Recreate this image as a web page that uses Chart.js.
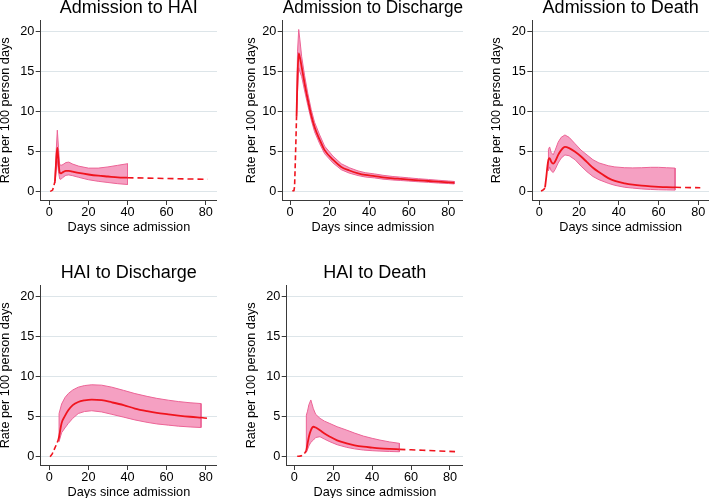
<!DOCTYPE html>
<html><head><meta charset="utf-8">
<script src="https://cdn.jsdelivr.net/npm/chart.js@4.4.0/dist/chart.umd.min.js"></script>
<style>
html,body{margin:0;padding:0;background:#fff;overflow:hidden;width:709px;height:498px;position:relative;}
canvas{position:absolute;}
</style></head><body>
<script>
// ---------- text & ticks ----------
const titles = ['Admission to HAI','Admission to Discharge','Admission to Death','HAI to Discharge','HAI to Death'];
const xTitle = 'Days since admission';
const yTitle = 'Rate per 100 person days';
const xTicks = [0, 20, 40, 60, 80];
const yTicks = [0, 5, 10, 15, 20];

// ---------- Panel 1: Admission to HAI ----------
const p1PreDays  = [0.4, 1.0, 1.7, 2.3, 2.9];
const p1PreRate  = [0.05, 0.1, 0.2, 0.7, 1.3];
const p1Days     = [2.9, 3.5, 4.1, 4.7, 5.3, 6.0, 7.0, 8.5, 10, 12, 15, 20, 25, 30, 35, 40];
const p1Rate     = [1.3, 3.8, 5.5, 3.8, 2.4, 2.3, 2.45, 2.6, 2.6, 2.5, 2.35, 2.15, 2.0, 1.9, 1.8, 1.75];
const p1Hi       = [1.5, 5.0, 7.7, 5.5, 3.4, 3.3, 3.4, 3.65, 3.7, 3.45, 3.2, 2.95, 2.95, 3.1, 3.3, 3.5];
const p1Lo       = [1.1, 2.6, 3.9, 2.5, 1.6, 1.55, 1.8, 2.05, 2.1, 2.0, 1.8, 1.5, 1.3, 1.15, 1.0, 0.9];
const p1PostDays = [40, 50, 60, 70, 81];
const p1PostRate = [1.75, 1.7, 1.65, 1.6, 1.55];

// ---------- Panel 2: Admission to Discharge ----------
const p2PreDays  = [1.2, 2.0, 2.3, 2.6, 3.0, 3.3];
const p2PreRate  = [0.1, 0.15, 0.6, 3.0, 6.5, 9.4];
const p2Days     = [3.3, 3.8, 4.4, 5.0, 5.9, 7.4, 9.0, 10.7, 12.4, 15, 17.5, 21.7, 25.9, 30, 34.4, 38, 42.8, 47, 52, 56, 60, 65, 70, 75, 80, 83];
const p2Rate     = [9.4, 14.5, 17.3, 16.8, 15.6, 13.5, 11.5, 9.6, 8.1, 6.5, 5.2, 4.0, 3.1, 2.65, 2.3, 2.1, 1.96, 1.8, 1.67, 1.6, 1.52, 1.42, 1.34, 1.25, 1.17, 1.12];
const p2Hi       = [9.6, 17.5, 20.3, 19.0, 16.9, 14.5, 12.3, 10.3, 8.7, 7.1, 5.7, 4.45, 3.5, 3.0, 2.6, 2.38, 2.22, 2.05, 1.9, 1.82, 1.73, 1.62, 1.53, 1.43, 1.34, 1.28];
const p2Lo       = [9.2, 12.5, 15.5, 15.0, 14.4, 12.6, 10.8, 9.0, 7.5, 6.0, 4.75, 3.6, 2.75, 2.32, 2.02, 1.84, 1.72, 1.57, 1.46, 1.4, 1.33, 1.24, 1.17, 1.08, 1.02, 0.97];
const p2PostDays = [];
const p2PostRate = [];

// ---------- Panel 3: Admission to Death ----------
const p3PreDays  = [0.85, 1.7, 2.5, 2.9];
const p3PreRate  = [0.1, 0.18, 0.35, 0.55];
const p3Days     = [2.9, 3.5, 4.1, 4.6, 5.2, 6.0, 7.0, 8, 9.5, 11, 12.9, 15, 18, 21, 24, 27, 30, 34.7, 38, 43, 47, 51.5, 56, 60, 64, 68.3];
const p3Rate     = [0.55, 1.8, 3.2, 4.0, 4.2, 3.75, 3.5, 3.8, 4.6, 5.2, 5.6, 5.45, 5.0, 4.4, 3.7, 3.0, 2.45, 1.7, 1.35, 1.05, 0.88, 0.75, 0.66, 0.6, 0.56, 0.55];
const p3Hi       = [null, null, null, 5.3, 5.6, 4.9, 4.6, 5.2, 6.2, 6.8, 7.1, 6.8, 6.0, 5.2, 4.6, 4.0, 3.6, 3.25, 3.1, 3.0, 2.98, 3.0, 3.05, 3.05, 3.0, 2.95];
const p3Lo       = [null, null, null, 2.6, 3.1, 2.6, 2.4, 2.8, 3.6, 4.2, 4.6, 4.5, 4.0, 3.2, 2.5, 1.9, 1.5, 1.05, 0.8, 0.55, 0.45, 0.35, 0.28, 0.24, 0.22, 0.2];
const p3PostDays = [68.3, 72, 76, 81];
const p3PostRate = [0.55, 0.53, 0.51, 0.5];

// ---------- Panel 4: HAI to Discharge ----------
const p4PreDays  = [0.4, 1.5, 2.4, 3.5, 4.6];
const p4PreRate  = [0, 0.35, 0.85, 1.45, 2.1];
const p4Days     = [4.6, 5.0, 6.3, 8, 9.7, 12, 14.8, 18, 21.7, 26.8, 32, 38, 43.8, 50, 55, 60.9, 66, 72, 77.6];
const p4Rate     = [2.1, 2.5, 4.2, 5.1, 5.8, 6.45, 6.85, 7.05, 7.15, 7.07, 6.8, 6.45, 6.03, 5.7, 5.48, 5.3, 5.15, 5.0, 4.9];
const p4Hi       = [null, 5.4, 6.6, 7.4, 7.9, 8.35, 8.7, 8.9, 9.0, 8.95, 8.7, 8.3, 7.9, 7.55, 7.3, 7.07, 6.9, 6.75, 6.65];
const p4Lo       = [null, 1.9, 3.0, 3.6, 4.15, 4.8, 5.4, 5.65, 5.75, 5.6, 5.3, 4.95, 4.6, 4.3, 4.1, 3.95, 3.82, 3.72, 3.65];
const p4PostDays = [77.6, 79.3, 81];
const p4PostRate = [4.9, 4.85, 4.8];

// ---------- Panel 5: HAI to Death ----------
const p5PreDays  = [1.5, 2.5, 3.5, 4.5, 5.5, 6.2];
const p5PreRate  = [0.05, 0.05, 0.1, 0.25, 0.5, 0.8];
const p5Days     = [6.2, 6.8, 7.5, 8.5, 9.8, 11, 13.2, 15.5, 18.3, 22, 26.9, 31, 35.5, 40, 44, 49, 54];
const p5Rate     = [0.8, 1.6, 2.5, 3.3, 3.75, 3.65, 3.3, 2.9, 2.5, 2.05, 1.67, 1.43, 1.25, 1.13, 1.04, 0.97, 0.92];
const p5Hi       = [5.2, 5.7, 6.5, 7.1, 6.0, 5.3, 4.8, 4.45, 4.15, 3.75, 3.33, 2.95, 2.58, 2.3, 2.08, 1.85, 1.67];
const p5Lo       = [0.55, 0.9, 1.35, 1.8, 2.08, 2.4, 2.5, 2.2, 1.87, 1.5, 1.17, 0.98, 0.83, 0.75, 0.7, 0.65, 0.62];
const p5PostDays = [54, 60, 66, 72, 78, 82.6];
const p5PostRate = [0.92, 0.86, 0.8, 0.74, 0.68, 0.63];

// ---------- assemble ----------
const series = [
  [p1PreDays, p1PreRate, p1Days, p1Rate, p1Hi, p1Lo, p1PostDays, p1PostRate],
  [p2PreDays, p2PreRate, p2Days, p2Rate, p2Hi, p2Lo, p2PostDays, p2PostRate],
  [p3PreDays, p3PreRate, p3Days, p3Rate, p3Hi, p3Lo, p3PostDays, p3PostRate],
  [p4PreDays, p4PreRate, p4Days, p4Rate, p4Hi, p4Lo, p4PostDays, p4PostRate],
  [p5PreDays, p5PreRate, p5Days, p5Rate, p5Hi, p5Lo, p5PostDays, p5PostRate]
];

// layout geometry (canvas placement, axis widths, axis ranges)
const geo = [
  {cl:-1,  ct:-5,  cw:218, padL:0.45, yw:41.25, xmin:-4.40, xmax:85.78},
  {cl:245, ct:-5,  cw:218, padL:0.35, yw:37.35, xmin:-3.69, xmax:87.42},
  {cl:490, ct:-5,  cw:219, padL:0.35, yw:41.95, xmin:-3.52, xmax:85.38},
  {cl:-2,  ct:260, cw:219, padL:0.65, yw:42.05, xmin:-4.40, xmax:85.78},
  {cl:245, ct:260, cw:218, padL:0.35, yw:41.35, xmin:-3.90, xmax:86.69}
];
const CH = 240, XH = 35;

const FONT = "'Liberation Sans', Arial, Helvetica, sans-serif";
const RED = 'rgb(240,20,30)';
const PINK_FILL = 'rgb(245,160,194)';
const PINK_LINE = 'rgb(236,100,150)';
const GRID = '#dde5e9';
const AXIS = '#3a3a3a';

const pts = (xs, ys) => xs.map((x, i) => ({x, y: ys[i]}));
function bandPoly(days, hi, lo) {
  const up = [], dn = [];
  days.forEach((d, i) => {
    if (hi[i] != null && lo[i] != null) { up.push({x:d, y:hi[i]}); dn.push({x:d, y:lo[i]}); }
  });
  const poly = up.concat(dn.reverse());
  if (up.length) poly.push(up[0]);
  return poly;
}

titles.forEach((t, k) => {
  const g = geo[k];
  const [preD, preR, d, r, hi, lo, postD, postR] = series[k];
  const cv = document.createElement('canvas');
  cv.width = g.cw; cv.height = CH;
  cv.style.left = g.cl + 'px'; cv.style.top = g.ct + 'px';
  cv.style.width = g.cw + 'px'; cv.style.height = CH + 'px';
  document.body.appendChild(cv);

  new Chart(cv, {
    type: 'line',
    data: {
      datasets: [
        {data: pts(d, r), borderColor: RED, borderWidth: 1.8, pointRadius: 0, fill: false, tension: 0, cubicInterpolationMode: 'monotone'},
        {data: pts(preD, preR), borderColor: RED, borderWidth: 1.6, borderDash: [5, 3], pointRadius: 0, fill: false},
        {data: pts(postD, postR), borderColor: RED, borderWidth: 1.6, borderDash: [6, 4], pointRadius: 0, fill: false},
        {data: bandPoly(d, hi, lo), borderColor: PINK_LINE, backgroundColor: PINK_FILL, borderWidth: 1, pointRadius: 0, fill: 'shape', tension: 0}
      ]
    },
    options: {
      responsive: false,
      animation: false,
      events: [],
      layout: {padding: {left: g.padL, right: 0, top: 0, bottom: 0}},
      plugins: {
        legend: {display: false},
        tooltip: {enabled: false},
        title: {display: true, text: t, fullSize: false, color: '#000',
                font: {family: FONT, size: 18, weight: 'normal', lineHeight: 1.2},
                padding: {top: 2.3, bottom: 1.8}}
      },
      scales: {
        x: {
          type: 'linear', min: g.xmin, max: g.xmax,
          afterBuildTicks: s => { s.ticks = xTicks.map(v => ({value: v})); },
          afterFit: s => { s.height = XH; },
          ticks: {color: '#000', padding: 1, maxRotation: 0, autoSkip: false, font: {family: FONT, size: 12.7, lineHeight: 1}},
          grid: {drawOnChartArea: false, drawTicks: true, tickLength: 5, tickColor: AXIS, tickWidth: 1},
          border: {display: true, color: AXIS, width: 1},
          title: {display: true, text: xTitle, color: '#000', padding: {top: 0, bottom: 1.0},
                  font: {family: FONT, size: 12.7, lineHeight: 1}}
        },
        y: {
          type: 'linear', min: -1.04, max: 21.4,
          afterBuildTicks: s => { s.ticks = yTicks.map(v => ({value: v})); },
          afterFit: s => { s.width = g.yw; },
          ticks: {color: '#000', padding: 1.4, font: {family: FONT, size: 12.7, lineHeight: 1}},
          grid: {color: GRID, lineWidth: 1, drawTicks: true, tickLength: 5, tickColor: AXIS, tickWidth: 1},
          border: {display: true, color: AXIS, width: 1},
          title: {display: true, text: yTitle, color: '#000', padding: {top: 0, bottom: 0},
                  font: {family: FONT, size: 12.7, lineHeight: 1}}
        }
      }
    }
  });
});
</script>
</body></html>
